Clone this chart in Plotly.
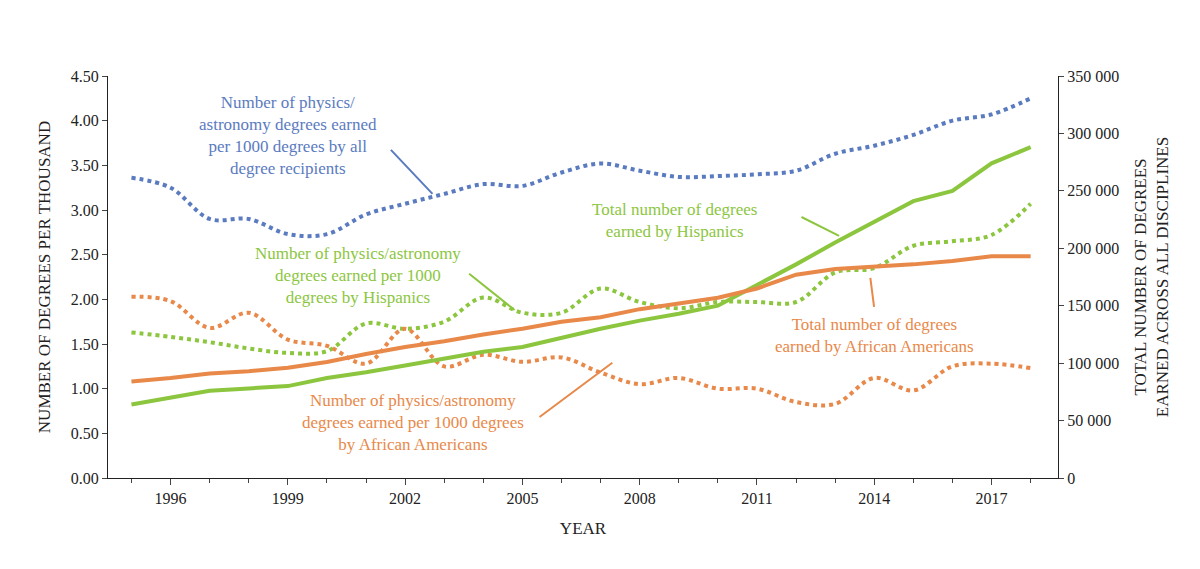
import plotly.graph_objects as go

years = list(range(1995, 2019))

all_per_1000 = [3.36, 3.25, 2.90, 2.90, 2.73, 2.73, 2.95, 3.07, 3.18, 3.29, 3.27, 3.42,
                3.52, 3.44, 3.37, 3.38, 3.40, 3.44, 3.63, 3.72, 3.84, 4.00, 4.07, 4.25]
hisp_per_1000 = [1.63, 1.58, 1.52, 1.45, 1.40, 1.42, 1.73, 1.67, 1.75, 2.02, 1.85, 1.85,
                 2.12, 1.97, 1.90, 1.97, 1.97, 1.97, 2.30, 2.35, 2.60, 2.65, 2.72, 3.07]
aa_per_1000 = [2.03, 1.98, 1.68, 1.85, 1.55, 1.48, 1.28, 1.67, 1.25, 1.38, 1.30, 1.35,
               1.18, 1.05, 1.12, 1.00, 1.00, 0.85, 0.83, 1.12, 0.98, 1.25, 1.28, 1.23]
aa_total = [84000, 87000, 91000, 93000, 96000, 101000, 108000, 114000, 119000, 125000,
            130000, 136000, 140000, 147000, 152000, 157000, 165000, 177000, 182000,
            184000, 186000, 189000, 193000, 193000]
hisp_total = [64000, 70000, 76000, 78000, 80000, 87000, 92000, 98000, 104000, 110000,
              114000, 122000, 130000, 137000, 143000, 150000, 168000, 186000, 205000,
              223000, 241000, 250000, 274000, 288000]

BLUE = "#5b7bc0"
GREEN = "#8cc63f"
ORANGE = "#e8894a"
FONT = "Liberation Serif"

fig = go.Figure()

# totals on the right axis
fig.add_trace(go.Scatter(x=years, y=hisp_total, yaxis="y2", mode="lines",
                         line=dict(color=GREEN, width=4)))
fig.add_trace(go.Scatter(x=years, y=aa_total, yaxis="y2", mode="lines",
                         line=dict(color=ORANGE, width=4)))

# per-1000 rates on the left axis
for vals, color in [(all_per_1000, BLUE), (hisp_per_1000, GREEN), (aa_per_1000, ORANGE)]:
    fig.add_trace(go.Scatter(x=years, y=vals, mode="lines",
                             line=dict(color=color, width=4, dash="dot", shape="spline")))

notes = [
    ("Number of physics/<br>astronomy degrees earned<br>per 1000 degrees by all<br>degree recipients",
     BLUE, 1999.0, 3.83, 2002.7, 3.18, 2001.6, 3.69),
    ("Number of physics/astronomy<br>degrees earned per 1000<br>degrees by Hispanics",
     GREEN, 2000.8, 2.27, 2004.8, 1.88, 2003.6, 2.30),
    ("Number of physics/astronomy<br>degrees earned per 1000 degrees<br>by African Americans",
     ORANGE, 2002.2, 0.62, 2007.3, 1.29, 2005.4, 0.67),
    ("Total number of degrees<br>earned by Hispanics",
     GREEN, 2008.9, 2.88, 2013.1, 2.71, 2012.1, 2.93),
    ("Total number of degrees<br>earned by African Americans",
     ORANGE, 2014.0, 1.60, 2013.9, 2.24, 2014.0, 1.90),
]
for text, color, tx, ty, hx, hy, sx, sy in notes:
    fig.add_annotation(x=tx, y=ty, text=text, showarrow=False,
                       font=dict(color=color, size=17, family=FONT))
    fig.add_annotation(x=hx, y=hy, ax=sx, ay=sy, axref="x", ayref="y", text="",
                       showarrow=True, arrowhead=0, arrowwidth=2, arrowcolor=color)

fig.update_layout(
    width=1200, height=569, showlegend=False,
    plot_bgcolor="white", paper_bgcolor="white",
    margin=dict(l=100, r=150, t=68, b=99),
    font=dict(family=FONT, size=16, color="#222"),
    separators=". ",
    xaxis=dict(range=[1994.4, 2018.7], tickvals=list(range(1996, 2019, 3)),
               ticks="outside", ticklen=6, showgrid=False, zeroline=False,
               showline=True, linecolor="#222",
               minor=dict(dtick=1, ticks="outside", ticklen=4),
               title=dict(text="YEAR", font=dict(size=17))),
    yaxis=dict(range=[0, 4.5], dtick=0.5, tickformat=".2f", ticks="outside",
               showgrid=False, zeroline=False, showline=True, linecolor="#222",
               title=dict(text="NUMBER OF DEGREES PER THOUSAND", font=dict(size=17))),
    yaxis2=dict(range=[0, 350000], dtick=50000, overlaying="y", side="right",
                ticks="outside", showgrid=False, zeroline=False, showline=True,
                linecolor="#222", tickformat=",",
                title=dict(text="TOTAL NUMBER OF DEGREES<br>EARNED ACROSS ALL DISCIPLINES",
                           font=dict(size=17))),
)

fig.write_html("out.html")
